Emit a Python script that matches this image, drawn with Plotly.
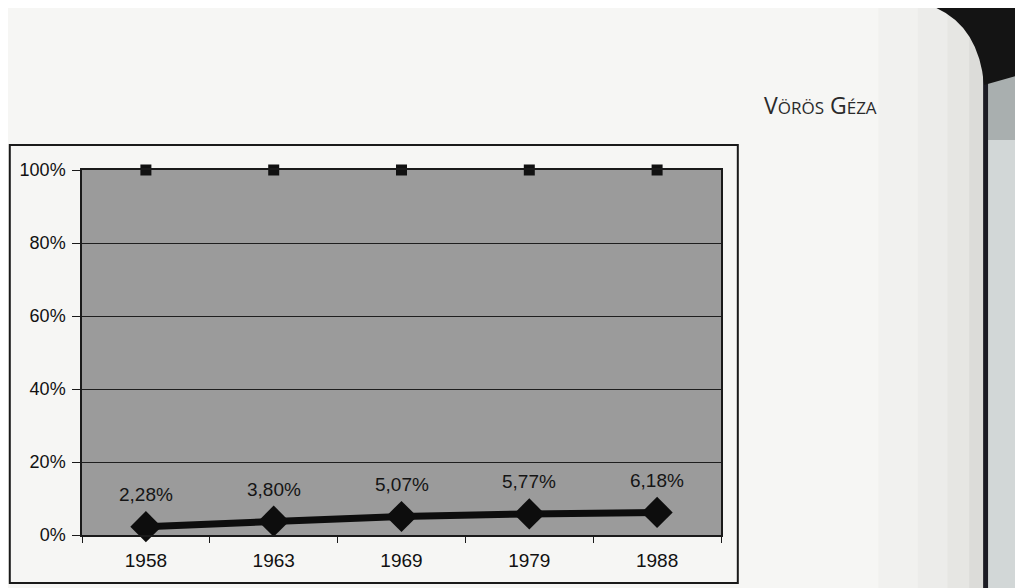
import plotly.graph_objects as go

# data
years = ["1958", "1963", "1969", "1979", "1988"]
total = [100, 100, 100, 100, 100]
share = [2.28, 3.80, 5.07, 5.77, 6.18]
share_labels = ["2,28%", "3,80%", "5,07%", "5,77%", "6,18%"]
y_ticks = [0, 20, 40, 60, 80, 100]
y_ticktext = ["0%", "20%", "40%", "60%", "80%", "100%"]

# the page body adds an 8px margin, so the figure is a bit smaller
OFF = 8
W, H = 1023 - OFF, 588 - OFF
L, R, T, B = 75, 721, 170, 535   # plot area in page pixels


def px(x):
    return (x - L) / (R - L)


def py(y):
    return (B - y) / (B - T)


font_main = "Liberation Sans, Arial, sans-serif"

fig = go.Figure()

fig.add_trace(go.Scatter(
    x=years, y=total, mode="markers",
    marker=dict(symbol="square", size=11, color="#111111"),
    cliponaxis=False, showlegend=False, hoverinfo="skip",
))

fig.add_trace(go.Scatter(
    x=years, y=share, mode="lines+markers",
    line=dict(color="#0d0d0d", width=7),
    marker=dict(symbol="diamond", size=24, color="#0d0d0d"),
    cliponaxis=False, showlegend=False,
))

# data labels (annotations on a category axis use the category index)
for i, (v, lab) in enumerate(zip(share, share_labels)):
    fig.add_annotation(x=i, y=v, text=lab, showarrow=False, yshift=32,
                       font=dict(family=font_main, size=19, color="#151515"))

shapes = [
    # outer chart frame
    dict(type="rect", xref="paper", yref="paper", layer="below",
         x0=px(2), x1=px(738), y0=py(583), y1=py(145),
         line=dict(color="#1a1a1a", width=2)),
]

# page getting darker towards the binding
for x0, col in [(880, "#f1f1ef"), (920, "#ececea"), (950, "#e6e6e3"), (972, "#dcdcd9")]:
    shapes.append(dict(type="rect", xref="paper", yref="paper", layer="below",
                       x0=px(x0), x1=px(988), y0=py(588), y1=py(0),
                       line=dict(width=0), fillcolor=col))

shapes += [
    # strip of the next page
    dict(type="rect", xref="paper", yref="paper", layer="below",
         x0=px(991), x1=px(1023), y0=py(588), y1=py(0),
         line=dict(width=0), fillcolor="#d2d7d7"),
    dict(type="rect", xref="paper", yref="paper", layer="below",
         x0=px(991), x1=px(1023), y0=py(140), y1=py(0),
         line=dict(width=0), fillcolor="#a9afaf"),
    # binding line
    dict(type="rect", xref="paper", yref="paper", layer="below",
         x0=px(986), x1=px(991), y0=py(588), y1=py(0),
         line=dict(width=0), fillcolor="#1c1c24"),
    # dark corner at the top right
    dict(type="path", xref="paper", yref="paper", layer="below",
         path="M %f,%f Q %f,%f %f,%f L %f,%f L %f,%f Z" % (
             px(910), py(0), px(980), py(10), px(987), py(85),
             px(1023), py(75), px(1023), py(0)),
         line=dict(width=0), fillcolor="#141414"),
]

fig.add_annotation(
    xref="paper", yref="paper", x=px(822), y=py(87), xanchor="center",
    showarrow=False,
    text="V<span style='font-size:17px'>ÖRÖS</span> G<span style='font-size:17px'>ÉZA</span>",
    font=dict(family="Open Sans, Noto Sans, sans-serif", size=23, color="#2a2a2a"),
)

fig.update_layout(
    width=W, height=H,
    margin=dict(l=L - OFF, r=1023 - R, t=T - OFF, b=588 - B),
    paper_bgcolor="#f6f6f4",
    plot_bgcolor="#9b9b9b",
    shapes=shapes,
    xaxis=dict(
        type="category", range=[-0.5, 4.5],
        showgrid=False, showline=True, linecolor="#1a1a1a", linewidth=1.5, mirror=True,
        ticks="outside", tickson="boundaries", ticklen=6, tickcolor="#1a1a1a",
        ticklabelstandoff=7,
        tickfont=dict(family=font_main, size=19, color="#111111"),
    ),
    yaxis=dict(
        range=[0, 100], tickvals=y_ticks, ticktext=y_ticktext,
        showgrid=True, gridcolor="#1e1e1e", gridwidth=1,
        showline=True, linecolor="#1a1a1a", linewidth=1.5, mirror=True,
        ticks="outside", ticklen=8, tickcolor="#1a1a1a",
        ticklabelstandoff=3, zeroline=False,
        tickfont=dict(family=font_main, size=18, color="#111111"),
    ),
)

fig.write_html("out.html")
